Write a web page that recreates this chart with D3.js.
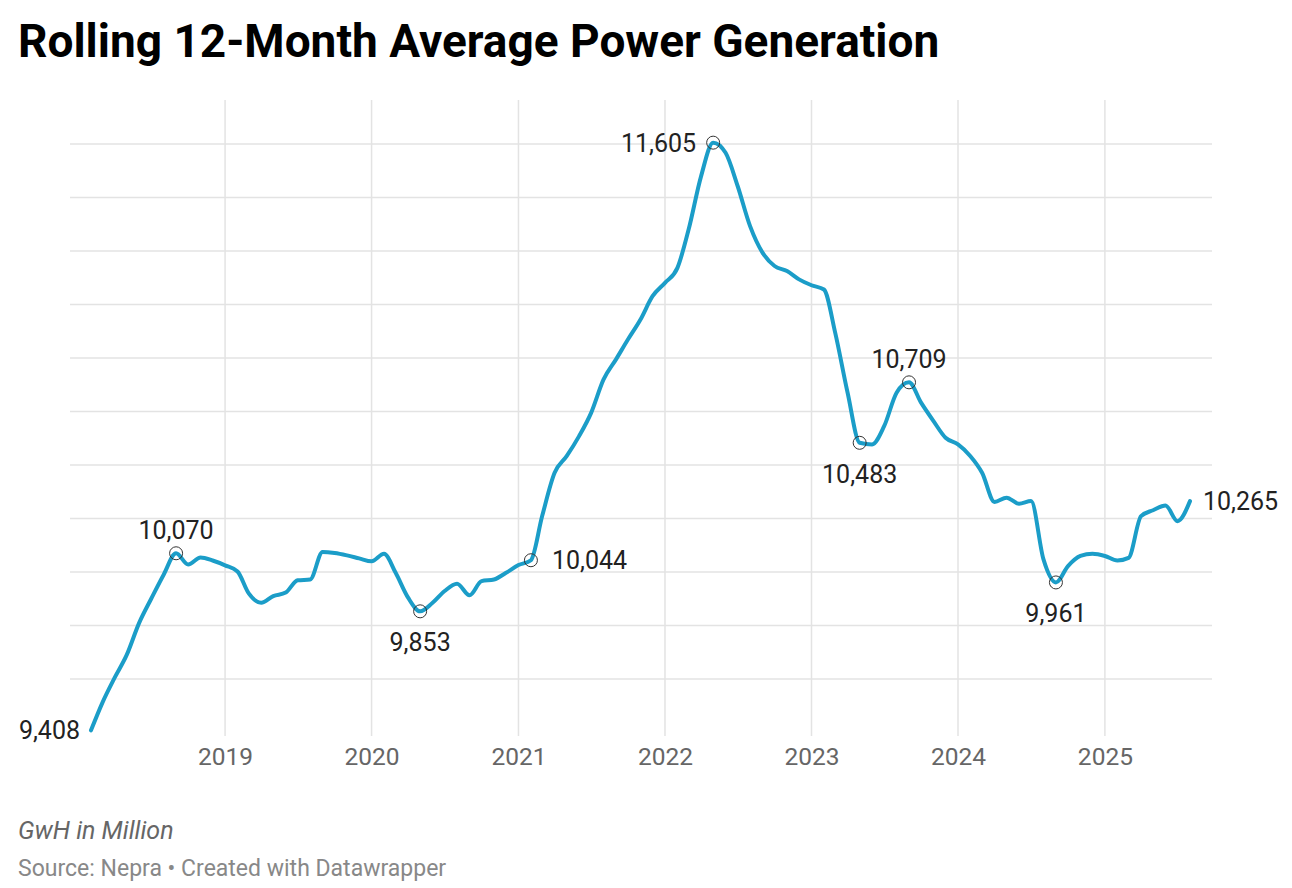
<!DOCTYPE html>
<html>
<head>
<meta charset="utf-8">
<script src="https://cdn.jsdelivr.net/npm/d3@7"></script>
<style>
  body { margin: 0; background: #fff; }
  svg text { font-family: Roboto, "Noto Sans", sans-serif; }
</style>
</head>
<body>
<div id="chart"></div>
<script>
// monthly rolling average, Feb 2018 .. Aug 2025
const startMonth = new Date(2018, 1, 1);
const values = [
    9408, 9510, 9605, 9690, 9810, 9900, 9990, 10070, 10028, 10054, 10043,            // 2018 Feb-Dec
    10025, 10002, 9920, 9885, 9910, 9923, 9969, 9972, 10075, 10071, 10062, 10051,   // 2019
    10040, 10068, 9997, 9904, 9853, 9885, 9929, 9956, 9913, 9966, 9972, 9997,       // 2020
    10026, 10044, 10209, 10371, 10433, 10508, 10595, 10720, 10795, 10870, 10944, 11031, // 2021
    11081, 11137, 11281, 11480, 11605, 11567, 11443, 11293, 11194, 11144, 11125, 11094, // 2022
    11072, 11056, 10895, 10670, 10483, 10477, 10545, 10670, 10709, 10633, 10564, 10502, // 2023
    10477, 10433, 10371, 10262, 10278, 10255, 10265, 10047, 9961, 10022, 10060, 10068,  // 2024
    10060, 10043, 10053, 10209, 10231, 10249, 10190, 10265                          // 2025 Jan-Aug
];
const yearTicks = [2019, 2020, 2021, 2022, 2023, 2024, 2025];
const gridValues = [9600, 9800, 10000, 10200, 10400, 10600, 10800, 11000, 11200, 11400, 11600];

// annotated points: month index, label placement
const markIdx = [0, 7, 27, 36, 51, 63, 67, 79, 90];
const markPos = ['left', 'top', 'bottom', 'right', 'left', 'bottom', 'top', 'bottom', 'right'];
const markCircle = [false, true, true, true, true, true, true, true, false];

const W = 1292, H = 888;
const data = values.map((v, i) => ({date: d3.timeMonth.offset(startMonth, i), value: v}));

const svg = d3.select('#chart').append('svg')
    .attr('width', W)
    .attr('height', H);

svg.append('text')
    .attr('x', 18)
    .attr('y', 57)
    .attr('font-size', 46)
    .attr('font-weight', 700)
    .attr('fill', '#000')
    .text('Rolling 12-Month Average Power Generation');

const x = d3.scaleTime()
    .domain([startMonth, d3.timeMonth.offset(startMonth, values.length - 1)])
    .range([91, 1190]);
const y = d3.scaleLinear().domain([9600, 11600]).range([679, 144]);

const grid = svg.append('g').attr('class', 'grid');
grid.selectAll('line.h').data(gridValues).join('line')
    .attr('class', 'h')
    .attr('x1', 70).attr('x2', 1212)
    .attr('y1', d => y(d)).attr('y2', d => y(d))
    .attr('stroke', '#e3e3e3').attr('stroke-width', 1.5);

grid.selectAll('line.v').data(yearTicks).join('line')
    .attr('class', 'v')
    .attr('x1', d => x(new Date(d, 0, 1))).attr('x2', d => x(new Date(d, 0, 1)))
    .attr('y1', 100).attr('y2', 736)
    .attr('stroke', '#e3e3e3').attr('stroke-width', 1.5);

// x axis labels
const xAxis = d3.axisBottom(x)
    .tickValues(yearTicks.map(d => new Date(d, 0, 1)))
    .tickFormat(d3.timeFormat('%Y'))
    .tickSize(0)
    .tickPadding(0);
const ax = svg.append('g').attr('transform', 'translate(0,748)').call(xAxis);
ax.select('.domain').remove();
ax.selectAll('text')
    .attr('font-size', 24.5)
    .attr('fill', '#666')
    .attr('font-family', 'Roboto, sans-serif');

const line = d3.line()
    .x(d => x(d.date))
    .y(d => y(d.value))
    .curve(d3.curveMonotoneX);

svg.append('path')
    .datum(data)
    .attr('fill', 'none')
    .attr('stroke', '#1b9dc8')
    .attr('stroke-width', 4)
    .attr('stroke-linejoin', 'round')
    .attr('stroke-linecap', 'round')
    .attr('d', line);

const fmt = d3.format(',');
const marks = markIdx.map((i, k) => ({d: data[i], pos: markPos[k], circle: markCircle[k]}));

svg.selectAll('circle.mark').data(marks.filter(m => m.circle)).join('circle')
    .attr('class', 'mark')
    .attr('cx', m => x(m.d.date))
    .attr('cy', m => y(m.d.value))
    .attr('r', 6.5)
    .attr('fill', 'none')
    .attr('stroke', '#333')
    .attr('stroke-width', 1);

svg.selectAll('text.mark').data(marks).join('text')
    .attr('class', 'mark')
    .attr('font-size', 25)
    .attr('fill', '#222')
    .attr('x', m => {
        const px = x(m.d.date);
        if(m.pos === 'left') return px - (m.circle ? 17 : 11);
        if(m.pos === 'right') return px + (m.circle ? 21 : 13);
        return px;
    })
    .attr('y', m => {
        const py = y(m.d.value);
        if(m.pos === 'top') return py - 14;
        if(m.pos === 'bottom') return py + 40;
        return py + 9;
    })
    .attr('text-anchor', m => m.pos === 'left' ? 'end' : m.pos === 'right' ? 'start' : 'middle')
    .text(m => fmt(m.d.value));

svg.append('text')
    .attr('x', 18).attr('y', 839)
    .attr('font-size', 25)
    .attr('font-style', 'italic')
    .attr('fill', '#666')
    .text('GwH in Million');

svg.append('text')
    .attr('x', 18).attr('y', 876)
    .attr('font-size', 23)
    .attr('fill', '#888')
    .text('Source: Nepra \u2022 Created with Datawrapper');
</script>
</body>
</html>
